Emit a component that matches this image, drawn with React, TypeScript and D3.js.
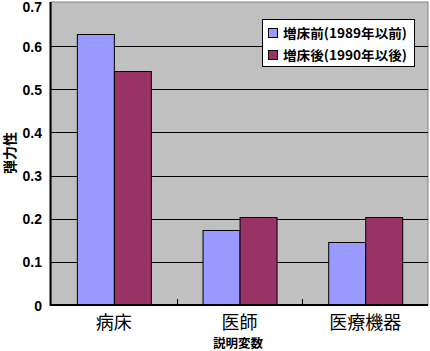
import React, { useEffect, useRef } from "react";
import * as d3 from "d3";

const categories = ["病床", "医師", "医療機器"];
const seriesNames = ["増床前(1989年以前)", "増床後(1990年以後)"];
const before1989 = [0.627, 0.175, 0.145];
const after1990 = [0.542, 0.205, 0.205];
const yTicks = [0, 0.1, 0.2, 0.3, 0.4, 0.5, 0.6, 0.7];
const colors = ["#9999ff", "#993366"];

const W = 430;
const H = 351;
const jp = "'Noto Sans CJK JP', sans-serif";

export default function App() {
  const ref = useRef<SVGSVGElement>(null);

  useEffect(() => {
    const svg = d3.select(ref.current);
    svg.selectAll("*").remove();

    const left = 51, right = 428, top = 3, bottom = 305;
    const y = d3.scaleLinear().domain([0, 0.7]).range([bottom, top]);
    const x0 = d3.scaleBand().domain(categories).range([left, right]);
    // gap width ~140%: 2 bars + 1.4 bar of gap per band
    const barW = x0.bandwidth() / 3.4;
    const x1 = d3.scaleBand().domain(["0", "1"]).range([0, barW * 2]);

    // plot area
    svg.append("rect")
      .attr("x", left).attr("y", top - 1)
      .attr("width", right - left).attr("height", bottom - top + 1)
      .attr("fill", "#c0c0c0").attr("stroke", "#808080");

    // gridlines
    svg.append("g").selectAll("line")
      .data(yTicks.slice(1, -1))
      .enter().append("line")
      .attr("x1", left).attr("x2", right)
      .attr("y1", d => Math.round(y(d)) + 0.5).attr("y2", d => Math.round(y(d)) + 0.5)
      .attr("stroke", "#000");

    // bars
    const rows = categories.map((c, i) => ({ c, v: [before1989[i], after1990[i]] }));
    const grp = svg.append("g").selectAll("g")
      .data(rows).enter().append("g")
      .attr("transform", d => `translate(${x0(d.c)! + (x0.bandwidth() - barW * 2) / 2},0)`);
    grp.selectAll("rect")
      .data(d => d.v.map((v, k) => ({ v, k })))
      .enter().append("rect")
      .attr("x", d => Math.round(x1(String(d.k))!) + 0.5)
      .attr("y", d => Math.round(y(d.v)) + 0.5)
      .attr("width", Math.round(barW))
      .attr("height", d => bottom - Math.round(y(d.v)))
      .attr("fill", d => colors[d.k])
      .attr("stroke", "#000");

    // axes lines
    svg.append("line").attr("x1", left - 0.5).attr("x2", left - 0.5)
      .attr("y1", top - 1).attr("y2", bottom + 1).attr("stroke", "#000").attr("stroke-width", 2);
    svg.append("line").attr("x1", left - 1).attr("x2", right)
      .attr("y1", bottom).attr("y2", bottom).attr("stroke", "#000").attr("stroke-width", 2);

    // category ticks (inside)
    svg.append("g").selectAll("line")
      .data(categories.slice(1))
      .enter().append("line")
      .attr("x1", d => Math.round(x0(d)!) + 0.5).attr("x2", d => Math.round(x0(d)!) + 0.5)
      .attr("y1", bottom).attr("y2", bottom - 6)
      .attr("stroke", "#000");

    // y tick labels
    svg.append("g").selectAll("text")
      .data(yTicks).enter().append("text")
      .attr("x", 42).attr("y", d => Math.max(y(d) + 5.5, 12))
      .attr("text-anchor", "end")
      .attr("font-family", "'Liberation Sans', Arial, sans-serif")
      .attr("font-weight", "bold").attr("font-size", 14)
      .text(d => (d === 0 ? "0" : d3.format(".1f")(d)));

    // category labels
    svg.append("g").selectAll("text")
      .data(categories).enter().append("text")
      .attr("x", d => x0(d)! + x0.bandwidth() / 2).attr("y", 329)
      .attr("text-anchor", "middle")
      .attr("font-family", jp).attr("font-size", 18)
      .text(d => d);

    // axis titles
    svg.append("text")
      .attr("x", 238).attr("y", 348)
      .attr("text-anchor", "middle")
      .attr("font-family", jp).attr("font-weight", "bold").attr("font-size", 12.5)
      .text("説明変数");
    svg.append("text")
      .attr("transform", "translate(15,153) rotate(-90)")
      .attr("text-anchor", "middle")
      .attr("font-family", jp).attr("font-weight", "bold").attr("font-size", 14)
      .text("弾力性");

    // legend
    const lg = svg.append("g").attr("transform", "translate(262,19)");
    lg.append("rect").attr("x", 0.5).attr("y", 0.5).attr("width", 152).attr("height", 47)
      .attr("fill", "#fff").attr("stroke", "#000");
    const item = lg.selectAll("g.item").data(seriesNames).enter().append("g")
      .attr("transform", (_, i) => `translate(0,${i * 22})`);
    item.append("rect")
      .attr("x", 6.5).attr("y", 9.5).attr("width", 9).attr("height", 9)
      .attr("fill", (_, i) => colors[i]).attr("stroke", "#000");
    item.append("text")
      .attr("x", 21).attr("y", 19)
      .attr("font-family", jp).attr("font-weight", "bold").attr("font-size", 13)
      .attr("textLength", 124).attr("lengthAdjust", "spacingAndGlyphs")
      .text(d => d);
  }, []);

  return (
    <div style={{ position: "absolute", left: 0, top: 0 }}>
      <svg ref={ref} width={W} height={H} style={{ display: "block", background: "#fff" }} />
    </div>
  );
}
